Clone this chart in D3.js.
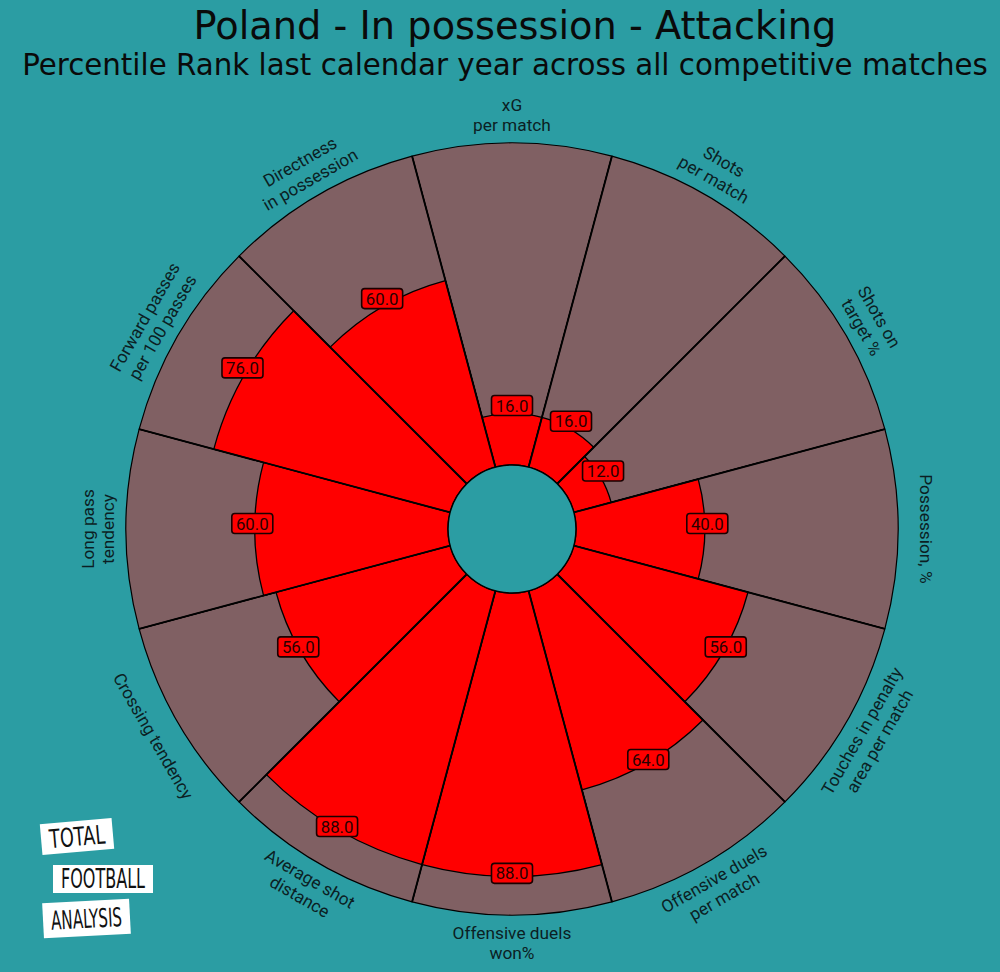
<!DOCTYPE html>
<html>
<head>
<meta charset="utf-8">
<script src="https://cdn.jsdelivr.net/npm/d3@7"></script>
<style>
  html, body { margin: 0; padding: 0; background: #2B9DA3; }
  svg { display: block; }
</style>
</head>
<body>
<svg id="chart" width="1000" height="972"></svg>
<script>
// ---------- data ----------
const titleText = "Poland - In possession - Attacking";
const subtitleText = "Percentile Rank last calendar year across all competitive matches";
const params = [
  "xG\nper match",
  "Shots\nper match",
  "Shots on\ntarget %",
  "Possession, %",
  "Touches in penalty\narea per match",
  "Offensive duels\nper match",
  "Offensive duels\nwon%",
  "Average shot\ndistance",
  "Crossing tendency",
  "Long pass\ntendency",
  "Forward passes\nper 100 passes",
  "Directness\nin possession"
];
const values = [16, 16, 12, 40, 56, 64, 88, 88, 56, 60, 76, 60];
const logoWords = ["TOTAL", "FOOTBALL", "ANALYSIS"];

// ---------- styles ----------
const bgColor = "#2B9DA3";
const sliceBg = "#806063";
const valueColor = "#FF0000";
const cx = 512, cy = 529;
const innerR = 64, outerR = 386;

const svg = d3.select("#chart");
svg.append("rect").attr("width", 1000).attr("height", 972).attr("fill", bgColor);

// titles
svg.append("text").attr("x", 515).attr("y", 39)
  .attr("text-anchor", "middle")
  .attr("font-family", "DejaVu Sans").attr("font-size", 38.3)
  .attr("fill", "#0a0a0a").text(titleText);
svg.append("text").attr("x", 505).attr("y", 75)
  .attr("text-anchor", "middle")
  .attr("font-family", "DejaVu Sans").attr("font-size", 29.3)
  .attr("fill", "#0a0a0a").text(subtitleText);

// scales
const step = 2 * Math.PI / params.length;
const angle = d3.scaleBand().domain(d3.range(params.length))
  .range([-step / 2, 2 * Math.PI - step / 2]).padding(0);
const r = d3.scaleLinear().domain([0, 100]).range([innerR, outerR]);

const g = svg.append("g").attr("transform", `translate(${cx},${cy})`);

const arc = d3.arc();

// background slices
g.selectAll("path.bg").data(values).join("path")
  .attr("class", "bg")
  .attr("d", (d, i) => arc({innerRadius: innerR, outerRadius: r(100),
      startAngle: angle(i), endAngle: angle(i) + angle.bandwidth()}))
  .attr("fill", sliceBg).attr("stroke", "#000").attr("stroke-width", 1.2)
  .attr("stroke-linejoin", "round");

// value slices
g.selectAll("path.val").data(values).join("path")
  .attr("class", "val")
  .attr("d", (d, i) => arc({innerRadius: innerR, outerRadius: r(d),
      startAngle: angle(i), endAngle: angle(i) + angle.bandwidth()}))
  .attr("fill", valueColor).attr("stroke", "#000").attr("stroke-width", 1.3)
  .attr("stroke-linejoin", "round");

// slice boundary lines
g.selectAll("line.sep").data(values).join("line")
  .attr("class", "sep")
  .attr("x1", (d, i) => r(0) * Math.sin(angle(i)))
  .attr("y1", (d, i) => -r(0) * Math.cos(angle(i)))
  .attr("x2", (d, i) => r(100) * Math.sin(angle(i)))
  .attr("y2", (d, i) => -r(100) * Math.cos(angle(i)))
  .attr("stroke", "#000").attr("stroke-width", 1.9);

// center hole
g.append("circle").attr("r", innerR).attr("fill", bgColor)
  .attr("stroke", "#000").attr("stroke-width", 1.5);

// value labels
const vl = g.selectAll("g.vlab").data(values).join("g")
  .attr("class", "vlab")
  .attr("transform", (d, i) => {
    const a = angle(i) + angle.bandwidth() / 2;
    const rr = r(d) + 2.5;
    return `translate(${rr * Math.sin(a)},${-rr * Math.cos(a) - 5.5})`;
  });
vl.append("rect").attr("x", -20.5).attr("y", -10).attr("width", 41).attr("height", 20)
  .attr("rx", 3).attr("fill", valueColor).attr("stroke", "#1a0000").attr("stroke-width", 1.6);
vl.append("text").attr("text-anchor", "middle").attr("dy", "0.36em")
  .attr("font-family", "Roboto").attr("font-size", 16.8)
  .attr("fill", "#2a0000").text(d => d.toFixed(1));

// parameter labels
const labR = 414;
const lineH = 20.5;
const pl = g.selectAll("g.plab").data(params).join("g")
  .attr("class", "plab")
  .attr("transform", (d, i) => {
    const a = angle(i) + angle.bandwidth() / 2;
    let deg = a * 180 / Math.PI;
    if (deg < 0) deg += 360;
    let rot = (deg > 90.01 && deg < 269.99) ? deg - 180 : deg;
    if (rot > 180) rot -= 360;
    return `translate(${labR * Math.sin(a)},${-labR * Math.cos(a)}) rotate(${rot})`;
  });
pl.each(function(d) {
  const lines = d.split("\n");
  const t = d3.select(this).append("text")
    .attr("text-anchor", "middle")
    .attr("font-family", "Roboto").attr("font-size", 17.3)
    .attr("fill", "#0b1f24");
  lines.forEach((ln, k) => {
    t.append("tspan").attr("x", 0)
      .attr("y", (k - (lines.length - 1) / 2) * lineH)
      .attr("dy", "0.36em").text(ln);
  });
});

// logo
const logo = [
  {x: 41, y: 821, w: 72, h: 31, rot: -5},
  {x: 53, y: 865, w: 100, h: 28, rot: 0},
  {x: 43, y: 901, w: 87, h: 35, rot: -3}
];
const lg = svg.selectAll("g.logo").data(logoWords).join("g")
  .attr("class", "logo")
  .attr("transform", (d, i) => `translate(${logo[i].x + logo[i].w / 2},${logo[i].y + logo[i].h / 2}) rotate(${logo[i].rot})`);
lg.append("rect")
  .attr("x", (d, i) => -logo[i].w / 2).attr("y", (d, i) => -logo[i].h / 2)
  .attr("width", (d, i) => logo[i].w).attr("height", (d, i) => logo[i].h)
  .attr("fill", "#ffffff");
lg.append("text").attr("text-anchor", "middle").attr("dy", "0.36em")
  .attr("font-family", "'Liberation Sans Narrow', 'DejaVu Sans Condensed', sans-serif")
  .attr("font-size", 26).attr("font-weight", 300).attr("fill", "#111")
  .attr("textLength", (d, i) => logo[i].w - 16).attr("lengthAdjust", "spacingAndGlyphs")
  .text(d => d);
</script>
</body>
</html>
